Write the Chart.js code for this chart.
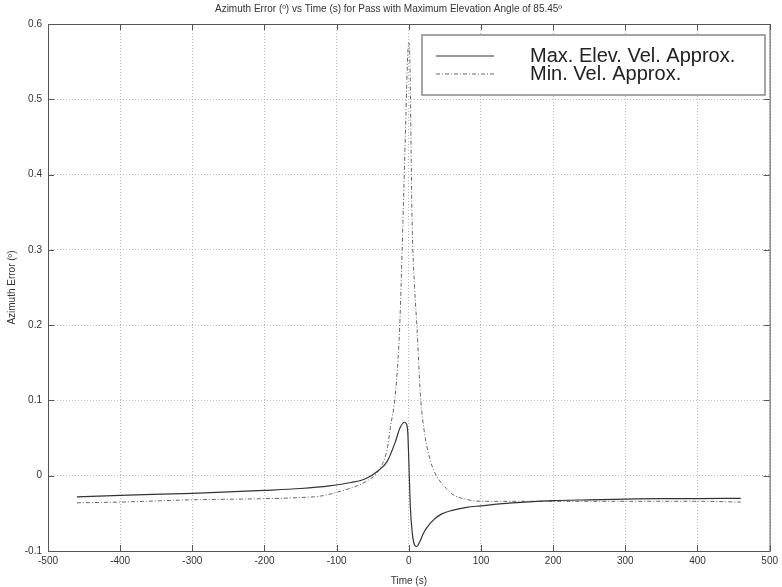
<!DOCTYPE html>
<html lang="en">
<head>
  <meta charset="UTF-8" />
  <title>Azimuth Error vs Time</title>
  <style>
    html, body { margin: 0; padding: 0; background: #fff; }
    #wrap { width: 782px; height: 587px; }
  </style>
</head>
<body>
  <div id="wrap"><canvas id="chart" width="782" height="587"></canvas></div>

  <script src="https://cdn.jsdelivr.net/npm/chart.js"></script>
  <script>
    // Max. Elev. Vel. Approx. (solid)
    const maxElevTime = [-460, -400, -300, -200, -150, -110, -80, -60, -42, -30, -19, -12, -6, -3, -1.5, 0, 2, 5, 8, 11, 15, 20, 25, 35, 45, 60, 80, 100, 130, 160, 200, 250, 300, 350, 400, 460];
    const maxElevErr  = [-0.028, -0.026, -0.0235, -0.0195, -0.017, -0.0135, -0.009, -0.004, 0.007, 0.019, 0.044, 0.064, 0.071, 0.068, 0.058, 0.02, -0.04, -0.078, -0.092, -0.094, -0.088, -0.077, -0.069, -0.058, -0.051, -0.046, -0.042, -0.040, -0.037, -0.035, -0.033, -0.032, -0.031, -0.0305, -0.0305, -0.030];

    // Min. Vel. Approx. (dashed)
    const minVelTime = [-460, -400, -300, -200, -150, -122, -100, -76, -60, -42, -30, -25.6, -18.7, -12.7, -8, -4, -1.5, 0, 1.5, 4.4, 8, 11.3, 16, 22, 30, 36, 43, 52, 61, 80, 100, 150, 200, 300, 400, 460];
    const minVelErr  = [-0.036, -0.035, -0.032, -0.0305, -0.029, -0.027, -0.022, -0.015, -0.008, 0.007, 0.035, 0.064, 0.108, 0.197, 0.343, 0.48, 0.56, 0.575, 0.55, 0.343, 0.25, 0.197, 0.108, 0.055, 0.0195, 0.004, -0.007, -0.017, -0.025, -0.0315, -0.034, -0.034, -0.034, -0.034, -0.034, -0.035];

    const seriesNames = ['Max. Elev. Vel. Approx.', 'Min. Vel. Approx.'];
    const titleText = 'Azimuth Error (\u00ba) vs Time (s) for Pass with Maximum Elevation Angle of 85.45\u00ba';

    const toPoints = (xs, ys) => xs.map((x, i) => ({ x: x, y: ys[i] }));

    // frame around plot area + inward ticks like the original
    const framePlugin = {
      id: 'frame',
      afterDraw(chart) {
        const { ctx, chartArea: a, scales } = chart;
        ctx.save();
        ctx.strokeStyle = '#555';
        ctx.lineWidth = 1;
        ctx.strokeRect(a.left + 0.5, a.top + 0.5, a.right - a.left, a.bottom - a.top);
        ctx.beginPath();
        scales.x.ticks.forEach(t => {
          const px = Math.round(scales.x.getPixelForValue(t.value)) + 0.5;
          ctx.moveTo(px, a.bottom); ctx.lineTo(px, a.bottom - 6);
          ctx.moveTo(px, a.top); ctx.lineTo(px, a.top + 6);
        });
        scales.y.ticks.forEach(t => {
          const py = Math.round(scales.y.getPixelForValue(t.value)) + 0.5;
          ctx.moveTo(a.left, py); ctx.lineTo(a.left + 6, py);
          ctx.moveTo(a.right, py); ctx.lineTo(a.right - 6, py);
        });
        ctx.stroke();
        ctx.restore();
      }
    };

    // legend box in the top right corner
    const boxLegend = {
      id: 'boxLegend',
      afterDraw(chart) {
        const { ctx } = chart;
        const x0 = 422, y0 = 35, w = 343, h = 60;
        ctx.save();
        ctx.fillStyle = '#fff';
        ctx.fillRect(x0, y0, w, h);
        ctx.strokeStyle = '#888';
        ctx.lineWidth = 1.5;
        ctx.strokeRect(x0, y0, w, h);
        chart.data.datasets.forEach((ds, i) => {
          const y = y0 + 21 + i * 18;
          ctx.beginPath();
          ctx.strokeStyle = ds.borderColor;
          ctx.lineWidth = ds.borderWidth;
          ctx.setLineDash(ds.borderDash || []);
          ctx.moveTo(436, y); ctx.lineTo(494, y);
          ctx.stroke();
          ctx.setLineDash([]);
          ctx.fillStyle = '#222';
          ctx.font = '20px "Liberation Sans", Arial, sans-serif';
          ctx.textBaseline = 'middle';
          ctx.fillText(ds.label, 530, y);
        });
        ctx.restore();
      }
    };

    const gridDash = { color: '#bbb', lineWidth: 1, drawTicks: false };

    new Chart(document.getElementById('chart'), {
      type: 'line',
      data: {
        datasets: [
          {
            label: seriesNames[0],
            data: toPoints(maxElevTime, maxElevErr),
            borderColor: '#333',
            borderWidth: 1.2,
            pointRadius: 0,
            cubicInterpolationMode: 'monotone'
          },
          {
            label: seriesNames[1],
            data: toPoints(minVelTime, minVelErr),
            borderColor: '#666',
            borderWidth: 1,
            borderDash: [4, 2, 1, 2],
            pointRadius: 0,
            cubicInterpolationMode: 'monotone'
          }
        ]
      },
      options: {
        responsive: false,
        animation: false,
        layout: { padding: { left: 6, right: 11, top: 0, bottom: 0 } },
        plugins: {
          legend: { display: false },
          tooltip: { enabled: false },
          title: {
            display: true,
            text: titleText,
            color: '#333',
            font: { family: '"Liberation Sans", Arial, sans-serif', size: 10, weight: 'normal' },
            padding: { top: 3, bottom: 9 }
          }
        },
        scales: {
          x: {
            type: 'linear',
            min: -500, max: 500,
            ticks: { stepSize: 100, color: '#333', padding: 4, font: { family: '"Liberation Sans", Arial, sans-serif', size: 10 } },
            grid: gridDash,
            border: { display: false, dash: [1, 2] },
            title: { display: true, text: 'Time (s)', color: '#333', padding: 0, font: { family: '"Liberation Sans", Arial, sans-serif', size: 10 } },
            afterFit: s => { s.height = 36; }
          },
          y: {
            min: -0.1, max: 0.6,
            ticks: { stepSize: 0.1, color: '#333', padding: 6, font: { family: '"Liberation Sans", Arial, sans-serif', size: 10 },
                     callback: v => Math.round(v * 10) / 10 },
            grid: gridDash,
            border: { display: false, dash: [1, 2] },
            title: { display: true, text: 'Azimuth Error (\u00ba)', color: '#333', padding: 0, font: { family: '"Liberation Sans", Arial, sans-serif', size: 10 } },
            afterFit: s => { s.width = 42; }
          }
        }
      },
      plugins: [framePlugin, boxLegend]
    });
  </script>
</body>
</html>
